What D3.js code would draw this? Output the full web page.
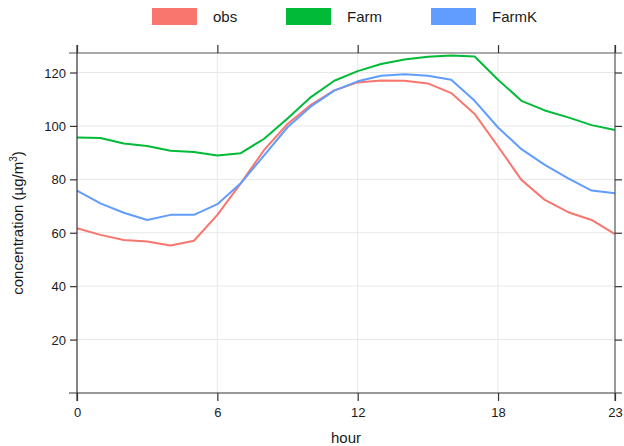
<!DOCTYPE html>
<html><head><meta charset="utf-8">
<script src="https://cdn.jsdelivr.net/npm/d3@7"></script>
<style>body{margin:0;background:#fff;} text{font-family:"Liberation Sans",Arial,sans-serif;}</style>
</head><body><svg id="c" width="624" height="446"></svg>
<script>
const hours = d3.range(0, 24);
const seriesNames = ["obs", "Farm", "FarmK"];
const seriesColors = ["#F8766D", "#00BA38", "#619CFF"];
const obs = [61.7,59.2,57.3,56.7,55.2,57.0,66.7,78.5,91.0,100.7,107.9,113.3,116.3,117.0,116.9,115.9,112.3,104.5,92.3,79.8,72.3,67.7,64.8,59.5];
const farm = [95.7,95.5,93.4,92.5,90.7,90.2,88.9,89.8,95.2,102.8,110.8,116.9,120.5,123.2,124.9,125.9,126.4,126.0,117.3,109.4,105.8,103.2,100.3,98.5];
const farmK = [75.8,71.0,67.5,64.8,66.7,66.7,70.7,78.5,89.0,99.5,107.3,113.2,116.7,118.8,119.3,118.8,117.3,109.4,99.4,91.3,85.4,80.4,75.8,74.8];
const xTicks = [0, 6, 12, 18, 23];
const yTicks = [20, 40, 60, 80, 100, 120];

const svg = d3.select("#c");
const L = 77, R = 615, T = 53, B = 393;
const x = d3.scaleLinear().domain([0, 23]).range([L, R]);
const y = d3.scaleLinear().domain([0, 127.3]).range([B, T]);

// grid
const g = svg.append("g");
g.selectAll("line.hg").data(yTicks).join("line")
  .attr("x1", L).attr("x2", R).attr("y1", d => y(d)).attr("y2", d => y(d))
  .attr("stroke", "#e8e8e8").attr("stroke-width", 1);
g.selectAll("line.vg").data([6, 12, 18]).join("line")
  .attr("y1", T).attr("y2", B).attr("x1", d => x(d)).attr("x2", d => x(d))
  .attr("stroke", "#e8e8e8").attr("stroke-width", 1);

// lines
const allSeries = [obs, farm, farmK];
const line = d3.line().x((d, i) => x(hours[i])).y(d => y(d));
allSeries.forEach((s, k) => {
  svg.append("path").datum(s).attr("d", line).attr("fill", "none")
    .attr("stroke", seriesColors[k]).attr("stroke-width", 2).attr("stroke-linejoin", "round");
});

// axes
const ax = svg.append("g").attr("stroke", "#333").attr("stroke-width", 1.2);
ax.append("line").attr("x1", L - 8).attr("x2", R + 7).attr("y1", T).attr("y2", T).attr("stroke", "#555");
ax.append("line").attr("x1", L - 8).attr("x2", R + 7).attr("y1", B).attr("y2", B);
ax.append("line").attr("x1", L).attr("x2", L).attr("y1", T - 8).attr("y2", B + 8);
ax.append("line").attr("x1", R).attr("x2", R).attr("y1", T - 8).attr("y2", B + 8).attr("stroke", "#555");

const axB = d3.axisBottom(x).tickValues(xTicks).tickSize(8).tickPadding(4).tickFormat(d3.format("d"));
const gb = svg.append("g").attr("transform", `translate(0,${B})`).call(axB);
const axT = d3.axisTop(x).tickValues(xTicks).tickSize(8).tickFormat("");
const gt = svg.append("g").attr("transform", `translate(0,${T})`).call(axT);
const axL = d3.axisLeft(y).tickValues(yTicks).tickSize(7).tickPadding(4);
const gl = svg.append("g").attr("transform", `translate(${L},0)`).call(axL);
const axR = d3.axisRight(y).tickValues(yTicks).tickSize(7).tickFormat("");
const gr = svg.append("g").attr("transform", `translate(${R},0)`).call(axR);
[gb, gt, gl, gr].forEach(a => {
  a.select(".domain").remove();
  a.selectAll(".tick line").attr("stroke", "#333").attr("stroke-width", 1.2);
  a.selectAll(".tick text").attr("font-size", 13).attr("fill", "#1a1a1a")
    .attr("font-family", "Liberation Sans, Arial, sans-serif");
});
gb.selectAll(".tick text").attr("dy", "0.9em");
gl.selectAll(".tick text").attr("dy", "0.35em");

// axis titles
svg.append("text").attr("x", (L + R) / 2).attr("y", 443).attr("text-anchor", "middle")
  .attr("font-size", 15).attr("fill", "#1a1a1a").text("hour");
const yt = svg.append("text").attr("transform", `translate(23,${(T + B) / 2}) rotate(-90)`)
  .attr("text-anchor", "middle").attr("font-size", 15).attr("fill", "#1a1a1a");
yt.append("tspan").text("concentration (µg/m");
yt.append("tspan").text("3").attr("font-size", 10).attr("dy", -6);
yt.append("tspan").text(")").attr("dy", 6);

// legend
const legX = [152, 286, 431];
const lg = svg.append("g");
seriesNames.forEach((n, k) => {
  lg.append("rect").attr("x", legX[k]).attr("y", 8).attr("width", 45).attr("height", 17)
    .attr("fill", seriesColors[k]);
  lg.append("text").attr("x", legX[k] + 61).attr("y", 17).attr("dy", "0.35em")
    .attr("font-size", 15).attr("fill", "#1a1a1a").text(n);
});
</script></body></html>
